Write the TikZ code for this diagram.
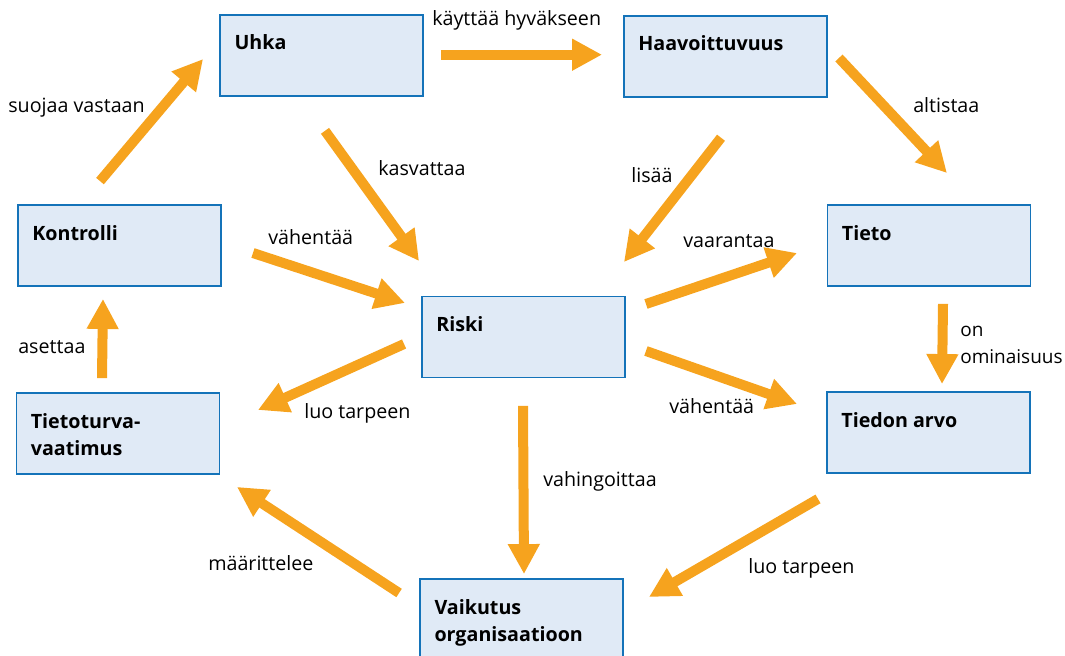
\documentclass[tikz,border=0pt]{standalone}
\usepackage{fontspec}
\setmainfont{Open Sans}
\usetikzlibrary{arrows.meta}
\definecolor{floworange}{RGB}{246,163,30}
\definecolor{boxfill}{RGB}{224,234,246}
\definecolor{boxline}{RGB}{20,115,185}
\tikzset{
  infobox/.style={draw=boxline, fill=boxfill, line width=1.3pt,
    minimum width=5.075cm, minimum height=2.025cm, inner sep=0pt},
  boxtext/.style={anchor=base west, inner sep=0pt, xshift=0.375cm, yshift=-0.9cm,
    font=\fontsize{14}{19.2}\selectfont\bfseries, align=left},
  boxtexttwo/.style={boxtext, yshift=-0.675cm},
  flow/.style={draw=floworange, line width=0.25cm,
    -{Triangle[length=0.75cm,width=0.75cm]}},
  flowtext/.style={anchor=base west, inner sep=0pt,
    font=\fontsize{14}{19.2}\selectfont, align=left}
}

\begin{document}
\begin{tikzpicture}[x=0.025cm,y=-0.025cm]
    \useasboundingbox (0,0) rectangle (1065,656);

    % boxes
    \node[infobox, label={[boxtext]north west:Uhka}] (uhka) at (321.7,55.4) {};
    \node[infobox, label={[boxtext]north west:Haavoittuvuus}] (haav) at (725.5,56.3) {};
    \node[infobox, label={[boxtext]north west:Kontrolli}] (kontrolli) at (119.5,245.5) {};
    \node[infobox, label={[boxtext]north west:Tieto}] (tieto) at (929,245.5) {};
    \node[infobox, label={[boxtext]north west:Riski}] (riski) at (523.5,337) {};
    \node[infobox, label={[boxtexttwo]north west:Tietoturva-\\vaatimus}] (vaatimus) at (118,433.5) {};
    \node[infobox, label={[boxtext]north west:Tiedon arvo}] (arvo) at (928.5,432.5) {};
    \node[infobox, label={[boxtexttwo]north west:Vaikutus\\organisaatioon}] (vaikutus) at (521.7,619.5) {};

    % arrows
    \draw[flow] ([shift={(-19.5,-23)}]kontrolli.north) -- ([shift={(-16.2,3.6)}]uhka.west);
    \draw[flow] ([shift={(16.8,-0.7)}]uhka.east) -- ([shift={(-21,-1.6)}]haav.west);
    \draw[flow] ([shift={(11,1.7)}]haav.east) -- ([shift={(18,-31)}]tieto.north);
    \draw[flow] ([shift={(3.3,34)}]uhka.south) -- ([shift={(-2,-34.5)}]riski.north west);
    \draw[flow] ([shift={(-4.5,40)}]haav.south) -- ([shift={(-2,-33.5)}]riski.north east);
    \draw[flow] ([shift={(31,7.5)}]kontrolli.east) -- ([shift={(-16,-34)}]riski.west);
    \draw[flow] ([shift={(20,-33)}]riski.east) -- ([shift={(-29.5,7.5)}]tieto.west);
    \draw[flow] ([shift={(14,17)}]tieto.south) -- ([shift={(13.5,-7)}]arvo.north);
    \draw[flow] ([shift={(-16,-14)}]vaatimus.north) -- ([shift={(-16.5,12)}]kontrolli.south);
    \draw[flow] ([shift={(-17,7)}]riski.west) -- ([shift={(37.5,-23.5)}]vaatimus.east);
    \draw[flow] ([shift={(20,14)}]riski.east) -- ([shift={(-29,-28.5)}]arvo.west);
    \draw[flow] ([shift={(-0.5,27.5)}]riski.south) -- ([shift={(2.3,-4)}]vaikutus.north);
    \draw[flow] ([shift={(-20.2,-26.5)}]vaikutus.west) -- ([shift={(16.5,12)}]vaatimus.south east);
    \draw[flow] ([shift={(-110.5,25)}]arvo.south) -- ([shift={(24.8,-22.5)}]vaikutus.east);

    % arrow labels
    \node[flowtext] (t-suojaa) at (8,113) {suojaa vastaan};
    \node[flowtext] (t-kayttaa) at (432,26) {käyttää hyväkseen};
    \node[flowtext] (t-altistaa) at (913,113) {altistaa};
    \node[flowtext] (t-kasvattaa) at (378,176) {kasvattaa};
    \node[flowtext] (t-lisaa) at (631,183) {lisää};
    \node[flowtext] (t-vahentaa1) at (268,244) {vähentää};
    \node[flowtext] (t-vaarantaa) at (683,247) {vaarantaa};
    \node[flowtext, font=\fontsize{13.5}{18.6}\selectfont] (t-ominaisuus) at (960,363) {on\\ominaisuus};
    \node[flowtext] (t-asettaa) at (18,353) {asettaa};
    \node[flowtext] (t-tarve1) at (304,418) {luo tarpeen};
    \node[flowtext] (t-vahentaa2) at (669,413) {vähentää};
    \node[flowtext] (t-vahingoittaa) at (543,486) {vahingoittaa};
    \node[flowtext] (t-maarittelee) at (208,570) {määrittelee};
    \node[flowtext] (t-tarve2) at (748,573) {luo tarpeen};
\end{tikzpicture}
\end{document}
